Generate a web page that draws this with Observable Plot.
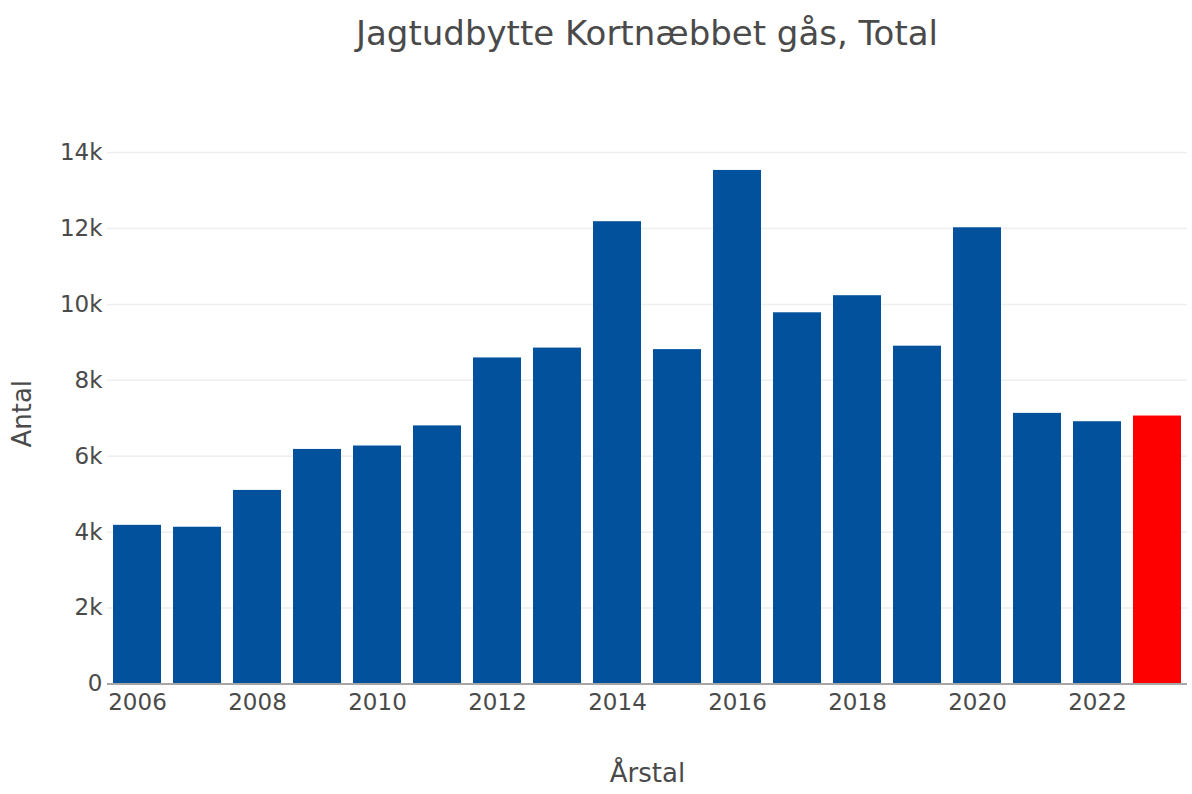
<!DOCTYPE html>
<html>
<head>
<meta charset="utf-8">
<script src="https://cdn.jsdelivr.net/npm/d3@7"></script>
<script src="https://cdn.jsdelivr.net/npm/@observablehq/plot@0.6"></script>
<style>
  html, body { margin: 0; padding: 0; background: #fff; }
  #wrap { width: 1192px; height: 794px; font-family: "DejaVu Sans", Verdana, sans-serif; }
  #title { height: 66px; box-sizing: border-box; padding-left: 102px; text-align: center;
           font-size: 34px; line-height: 66px; color: #4a4a4a; white-space: nowrap; }
</style>
</head>
<body>
<div id="wrap">
  <div id="title"></div>
  <div id="chart"></div>
</div>
<script>
const title = "Jagtudbytte Kortnæbbet gås, Total";
const xTitle = "Årstal";
const yTitle = "Antal";
const years = [2006, 2007, 2008, 2009, 2010, 2011, 2012, 2013, 2014, 2015, 2016, 2017, 2018, 2019, 2020, 2021, 2022, 2023];
const values = [4180, 4130, 5100, 6180, 6270, 6800, 8590, 8850, 12180, 8810, 13530, 9780, 10230, 8900, 12020, 7130, 6910, 7060];
const highlightYear = 2023;
const xTicks = [2006, 2008, 2010, 2012, 2014, 2016, 2018, 2020, 2022];
const yTicks = [0, 2000, 4000, 6000, 8000, 10000, 12000, 14000];

const data = years.map((year, i) => ({year, value: values[i]}));

document.getElementById("title").textContent = title;

const font = "DejaVu Sans, Verdana, sans-serif";
const textColor = "#4a4a4a";
const chart = Plot.plot({
  width: 1192,
  height: 728,
  marginTop: 77,
  marginBottom: 110.5,
  marginLeft: 107,
  marginRight: 5,
  style: {fontFamily: font, fontSize: "23px", color: textColor, background: "#fff"},
  x: {type: "band", domain: years, paddingInner: 0.2, paddingOuter: 0.1, align: 0.5, label: null},
  y: {domain: [0, 14240], label: null},
  marks: [
    Plot.gridY(yTicks.filter(d => d > 0), {stroke: "#eeeeee", strokeOpacity: 1, strokeWidth: 1.5}),
    Plot.barY(data, {
      x: "year", y: "value",
      fill: d => d.year === highlightYear ? "#ff0000" : "#02519c"
    }),
    Plot.ruleY([0], {stroke: "#a6a6a6", strokeWidth: 2}),
    Plot.axisX({ticks: xTicks, tickSize: 0, tickPadding: 10, fontSize: 23, label: null, fill: textColor,
                tickFormat: d => String(d)}),
    Plot.axisY({ticks: yTicks, tickSize: 0, tickPadding: 5, fontSize: 23, label: null, fill: textColor,
                tickFormat: d => d === 0 ? "0" : (d / 1000) + "k"}),
    Plot.text([yTitle], {frameAnchor: "left", textAnchor: "middle", dx: -85, rotate: -90, fontSize: 26, fill: textColor}),
    Plot.text([xTitle], {frameAnchor: "bottom", dy: 98, fontSize: 26, fill: textColor})
  ]
});
document.getElementById("chart").appendChild(chart);
</script>
</body>
</html>
